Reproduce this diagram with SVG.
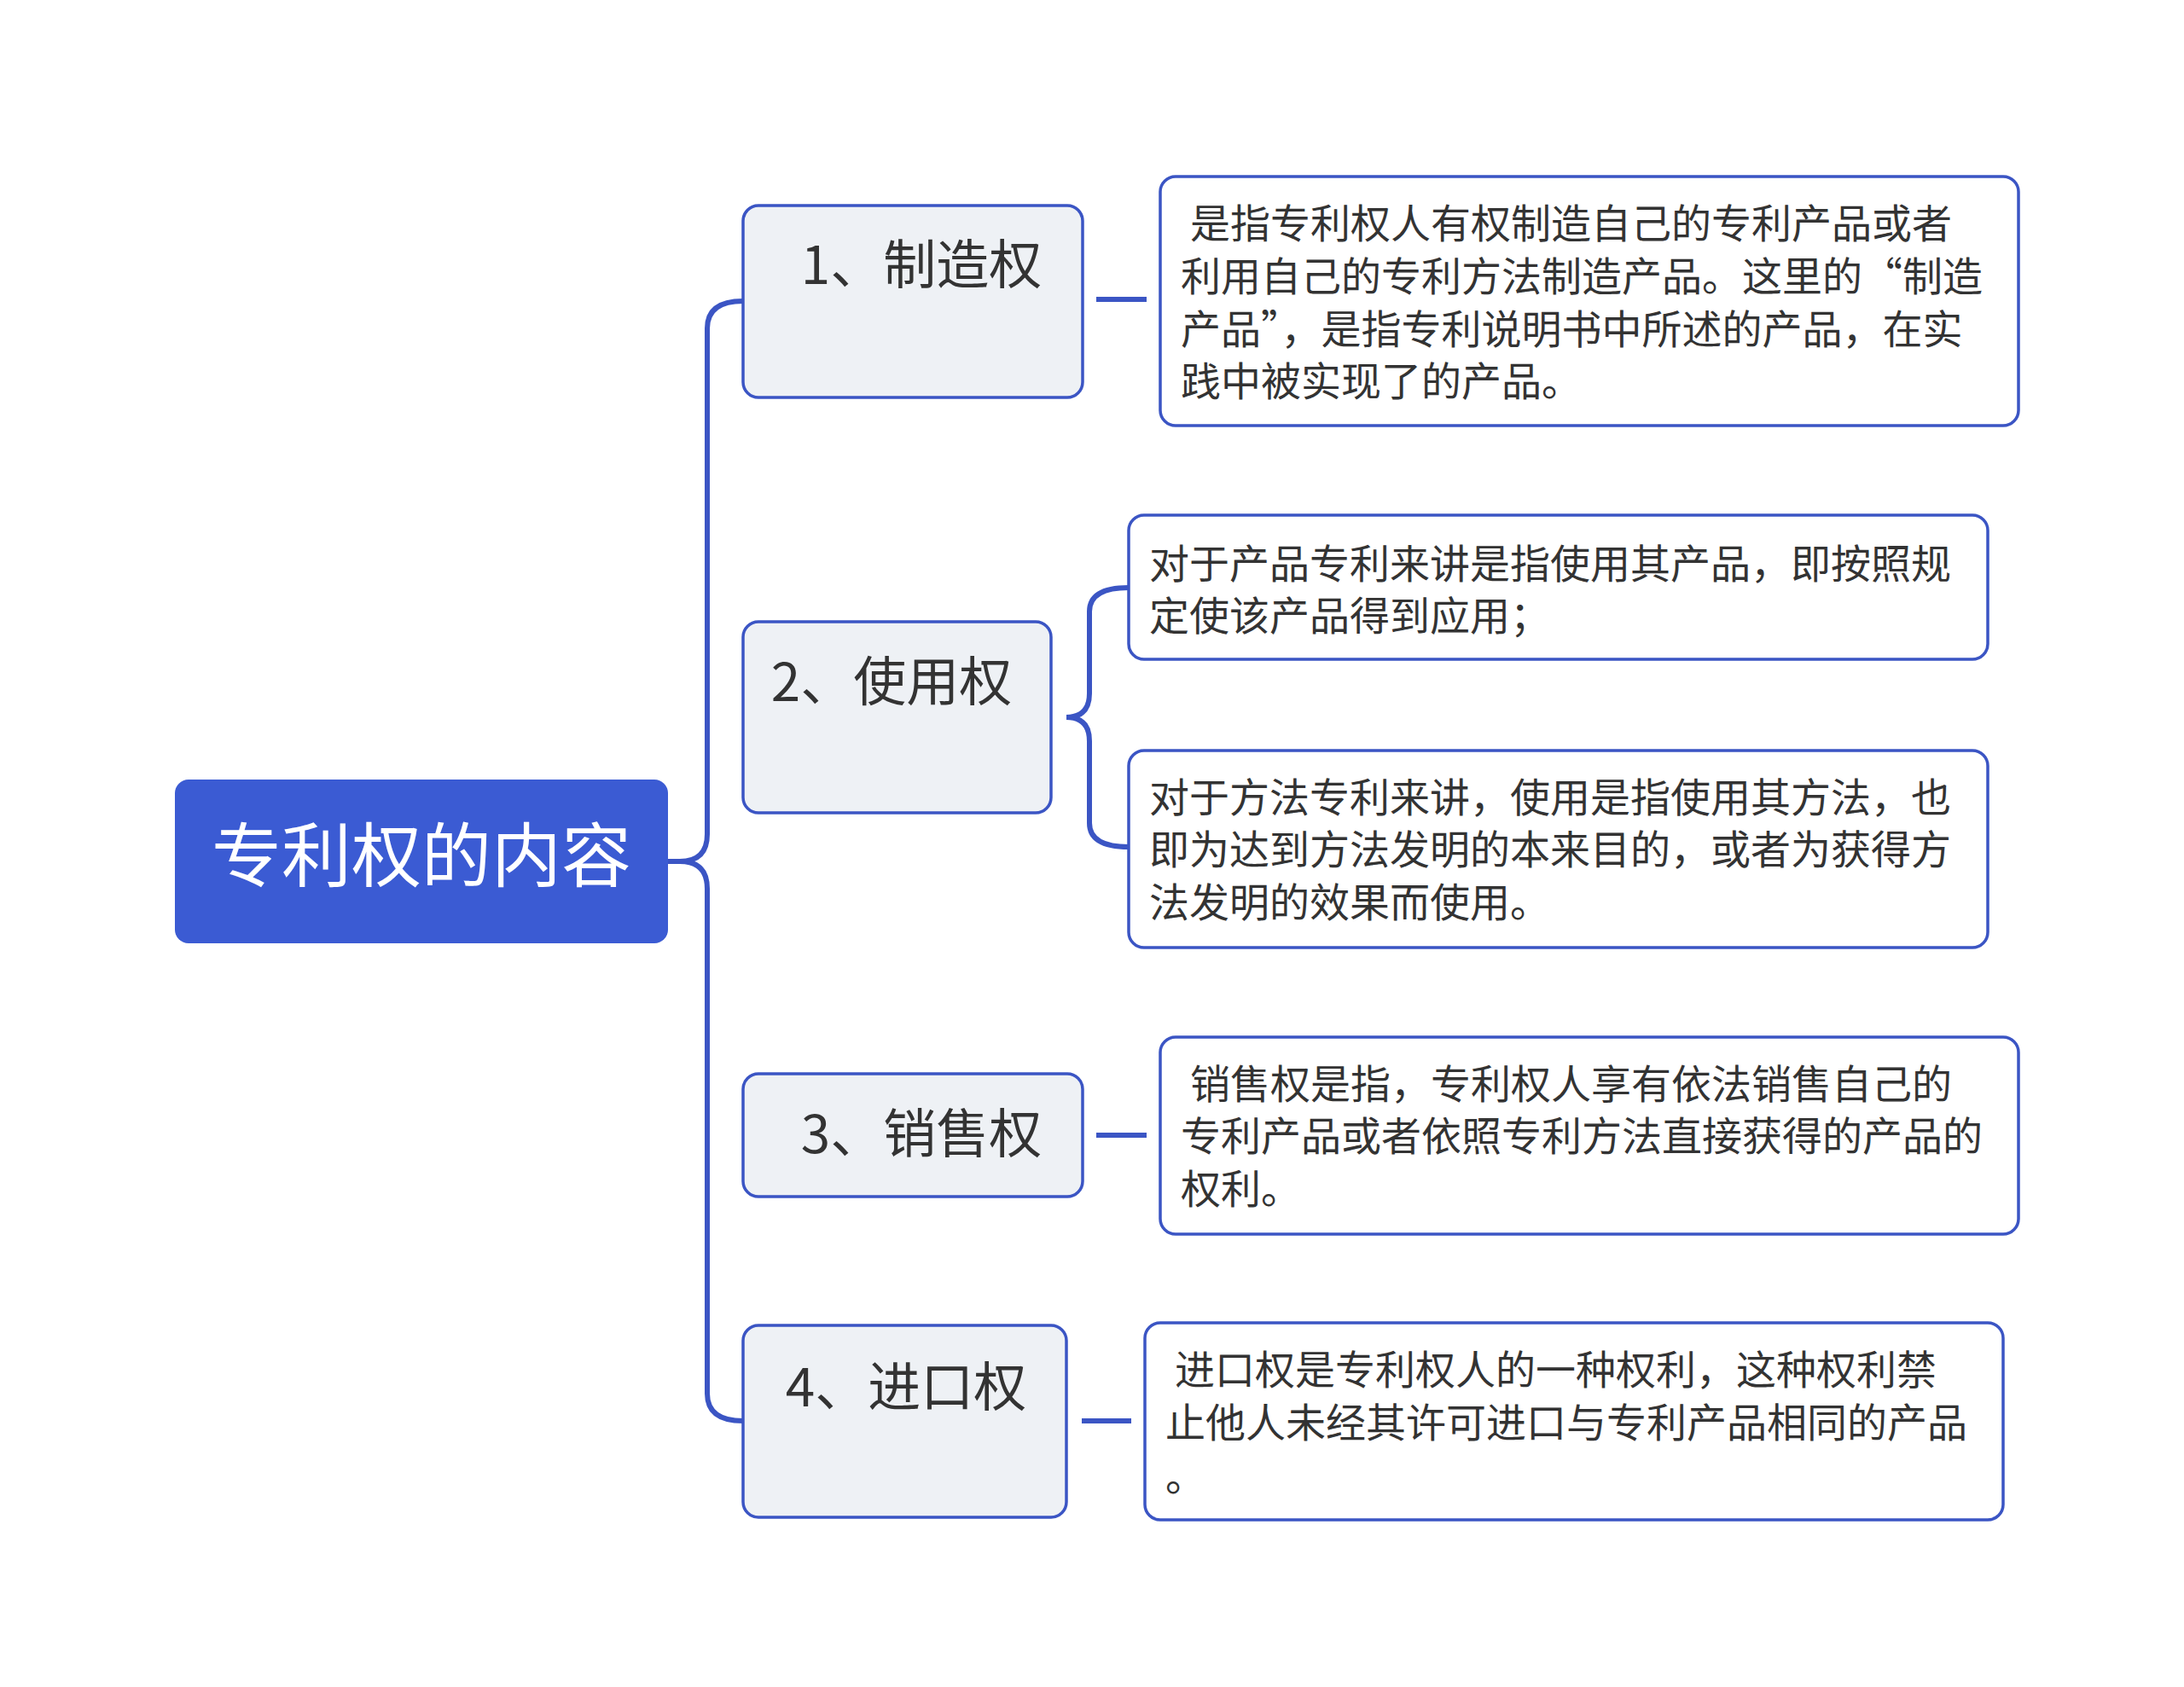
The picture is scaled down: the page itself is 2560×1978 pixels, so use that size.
<svg xmlns="http://www.w3.org/2000/svg" width="2560" height="1978" viewBox="0 0 2560 1978">
<style>
.n rect{fill:#EEF1F5;stroke:#3B55C4;stroke-width:3.5}
.l rect{fill:#fff;stroke:#3B55C4;stroke-width:3.5}
.n text{font-family:"Noto Sans CJK SC","Noto Sans",sans-serif;font-size:62px;fill:#333}
.l text{font-family:"Noto Sans CJK SC","Noto Sans",sans-serif;font-size:47px;fill:#333}
.c path{fill:none;stroke:#3B55C4;stroke-width:6}
</style>
<rect width="2560" height="1978" fill="#fff"/>
<g class="c">
<path d="M783 1010 L797 1010"/>
<path d="M871 353 Q829 353 829 385 L829 978 Q829 1010 797 1010 Q829 1010 829 1042 L829 1634 Q829 1666 871 1666"/>
<path d="M1323 689 Q1277 689 1277 717 L1277 813 Q1277 841 1250 841 Q1277 841 1277 869 L1277 965 Q1277 993 1323 993"/>
<path d="M1285 351 L1344 351"/>
<path d="M1285 1331 L1344 1331"/>
<path d="M1268 1666 L1326 1666"/>
</g>
<g id="root"><rect x="205" y="914" width="578" height="192" rx="16" fill="#3B5BD3"/>
<text x="494" y="1033" text-anchor="middle" font-family="Noto Sans CJK SC,sans-serif" font-size="82" fill="#fff">专利权的内容</text></g>
<g id="n1" class="n"><rect x="871" y="241" width="398" height="225" rx="18"/><text x="1080" y="333" text-anchor="middle">1、制造权</text></g>
<g id="n2" class="n"><rect x="871" y="729" width="361" height="224" rx="18"/><text x="1045" y="822" text-anchor="middle">2、使用权</text></g>
<g id="n3" class="n"><rect x="871" y="1259" width="398" height="144" rx="18"/><text x="1080" y="1352" text-anchor="middle">3、销售权</text></g>
<g id="n4" class="n"><rect x="871" y="1554" width="379" height="225" rx="18"/><text x="1062" y="1649" text-anchor="middle">4、进口权</text></g>
<g id="l1" class="l"><rect x="1360" y="207" width="1006" height="292" rx="18"/>
<text x="1395" y="279">是指专利权人有权制造自己的专利产品或者</text>
<text x="1384" y="341">利用自己的专利方法制造产品。这里的“制造</text>
<text x="1384" y="403">产品”，是指专利说明书中所述的产品，在实</text>
<text x="1384" y="464">践中被实现了的产品。</text></g>
<g id="l2a" class="l"><rect x="1323" y="604" width="1007" height="169" rx="18"/>
<text x="1347" y="678">对于产品专利来讲是指使用其产品，即按照规</text>
<text x="1347" y="739">定使该产品得到应用；</text></g>
<g id="l2b" class="l"><rect x="1323" y="880" width="1007" height="231" rx="18"/>
<text x="1347" y="952">对于方法专利来讲，使用是指使用其方法，也</text>
<text x="1347" y="1013">即为达到方法发明的本来目的，或者为获得方</text>
<text x="1347" y="1075">法发明的效果而使用。</text></g>
<g id="l3" class="l"><rect x="1360" y="1216" width="1006" height="231" rx="18"/>
<text x="1395" y="1288">销售权是指，专利权人享有依法销售自己的</text>
<text x="1384" y="1349">专利产品或者依照专利方法直接获得的产品的</text>
<text x="1384" y="1411">权利。</text></g>
<g id="l4" class="l"><rect x="1342" y="1551" width="1006" height="231" rx="18"/>
<text x="1377" y="1623">进口权是专利权人的一种权利，这种权利禁</text>
<text x="1366" y="1685">止他人未经其许可进口与专利产品相同的产品</text>
<text x="1366" y="1748">。</text></g>
</svg>
